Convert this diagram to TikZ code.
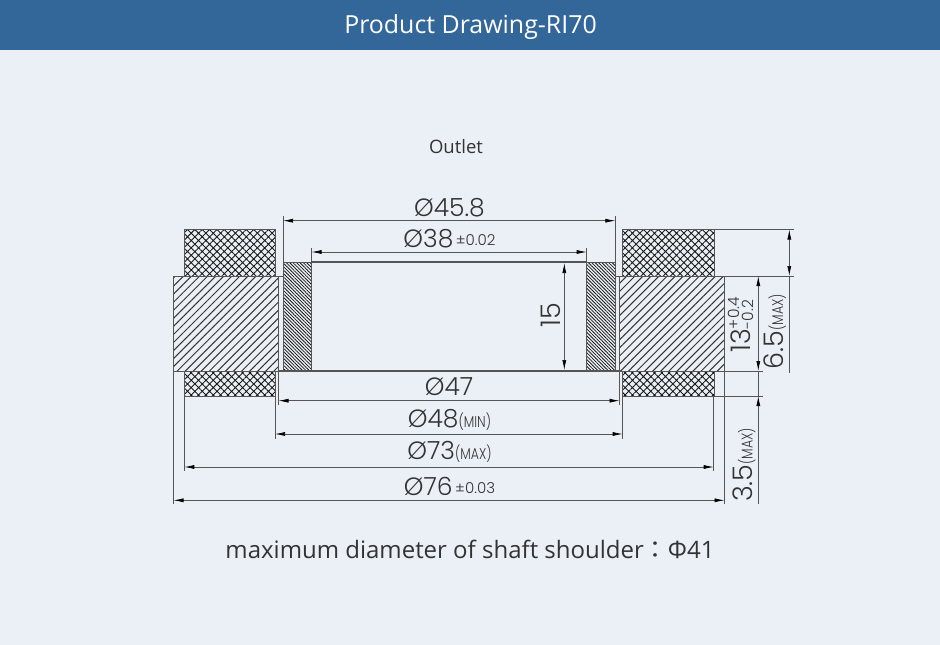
\documentclass[tikz,border=0pt]{standalone}
\usepackage{fontspec}
\setmainfont{Open Sans}
\newfontfamily\dimfont[UprightFont=*-Light]{Poppins}
\newfontfamily\cjkfont{Noto Sans CJK TC}
\usetikzlibrary{patterns.meta, arrows.meta}
\definecolor{pagebg}{HTML}{EBF0F7}
\definecolor{headblue}{HTML}{336699}
\definecolor{inkgrey}{HTML}{333333}
\definecolor{linegrey}{HTML}{555555}
\tikzset{
	dimline/.style={linegrey, line width=0.7pt},
	dimarrow/.style={linegrey, line width=0.7pt, {Latex[length=10pt,width=4pt,black]}-{Latex[length=10pt,width=4pt,black]}},
	dimtext/.style={inner sep=0pt, text=inkgrey, font=\dimfont\fontsize{25}{25}\selectfont},
	sidetext/.style={inner sep=0pt, text=inkgrey, rotate=90, anchor=base west, font=\dimfont\fontsize{27}{27}\selectfont},
	bodypart/.style={draw=linegrey, line width=0.7pt, pattern={Lines[angle=45,distance=5.7pt,line width=1pt]}, pattern color=black!80},
	crosspart/.style={draw=linegrey, line width=0.7pt, pattern={Hatch[angle=45,distance=5.2pt,line width=0.9pt]}, pattern color=black!90},
	densepart/.style={draw=linegrey, line width=0.7pt, pattern={Lines[angle=-45,distance=2.4pt,line width=0.8pt]}, pattern color=black!90}
}
\newcommand{\tinydim}[1]{{\fontsize{12.5}{13}\selectfont\scalebox{1}[1.25]{#1}}}
\newcommand{\toldim}[1]{{\fontsize{15}{15}\selectfont\,\raisebox{2pt}{#1}}}
\begin{document}
\begin{tikzpicture}[x=1pt,y=-1pt]

	\fill [pagebg] (0,0) rectangle (940,645);
	\useasboundingbox (0,0) rectangle (940,645);
	\fill [headblue] (0,0) rectangle (940,50);
	\node [anchor=base, text=white, font=\fontsize{24.9}{25}\selectfont] (title) at (470.5,33.5){Product Drawing-RI70};
	\node [anchor=base, text=inkgrey, font=\fontsize{18.5}{19}\selectfont] (outlet) at (456,153){Outlet};

%hatched parts
	\draw [crosspart] (184,229.5) rectangle (275,276);
	\draw [crosspart] (184,371) rectangle (275,396.5);
	\draw [crosspart] (622.7,229.5) rectangle (714,276);
	\draw [crosspart] (622.7,371) rectangle (714,396.5);
	\draw [bodypart] (173.5,276) rectangle (278.5,371);
	\draw [bodypart] (619.5,276) rectangle (724.5,371);
	\draw [densepart] (283,262) rectangle (311.5,371);
	\draw [densepart] (586.7,262) rectangle (615.3,371);

%bore lines
	\coordinate [] (BA) at (311.5,262){};
	\coordinate [] (BB) at (586.7,262){};
	\coordinate [] (BC) at (278.5,371){};
	\coordinate [] (BD) at (619.5,371){};
	\draw [linegrey, line width=1.6pt] (BA) -- (BB);
	\draw [linegrey, line width=1.6pt] (BC) -- (BD);
	\coordinate [] (BE) at (278.5,276){};
	\coordinate [] (BF) at (283,276){};
	\coordinate [] (BG) at (615.3,276){};
	\coordinate [] (BH) at (619.5,276){};
	\draw [dimline] (BE) -- (BF);
	\draw [dimline] (BG) -- (BH);

%extension lines
	\draw [dimline] (283,216) -- (283,262);
	\draw [dimline] (615.3,216) -- (615.3,262);
	\draw [dimline] (311.5,248) -- (311.5,262);
	\draw [dimline] (586.7,248) -- (586.7,262);
	\draw [dimline] (278.5,371) -- (278.5,405);
	\draw [dimline] (619.5,371) -- (619.5,405);
	\draw [dimline] (275,396) -- (275,438.5);
	\draw [dimline] (622.7,396) -- (622.7,438.5);
	\draw [dimline] (184.3,396) -- (184.3,471);
	\draw [dimline] (713.7,396) -- (713.7,471);
	\draw [dimline] (173.5,371) -- (173.5,504);
	\draw [dimline] (724.5,371) -- (724.5,504);
	\draw [dimline] (714,229.5) -- (794,229.5);
	\draw [dimline] (724.5,276) -- (794,276);
	\draw [dimline] (724.5,371) -- (763,371);
	\draw [dimline] (714,396) -- (763,396);

%dimension lines
	\draw [dimarrow] (283,220.7) -- (615.3,220.7);
	\draw [dimarrow] (311.5,252) -- (586.7,252);
	\draw [dimarrow] (564.3,263) -- (564.3,370);
	\draw [dimarrow] (278.5,400.7) -- (619.5,400.7);
	\draw [dimarrow] (275,434) -- (622.7,434);
	\draw [dimarrow] (184.3,467) -- (713.7,467);
	\draw [dimarrow] (173.5,500.3) -- (724.5,500.3);
	\draw [dimarrow] (789.3,229.5) -- (789.3,276);
	\draw [dimline] (789.3,276) -- (789.3,373);
	\draw [dimarrow] (758.3,276) -- (758.3,371);
	\draw [dimline] (758.3,371) -- (758.3,396);
	\draw [dimline, {Latex[length=10pt,width=4pt,black]}-] (758.3,396) -- (758.3,504);

%labels
	\node [dimtext] (d458) at (449.5,207.5){Ø45.8};
	\node [dimtext] (d38) at (449.5,238.5){Ø38\toldim{±0.02}};
	\node [sidetext] (h15) at (560,327.5){15};
	\node [dimtext] (d47) at (449,386.5){Ø47};
	\node [dimtext] (d48) at (449.5,419.5){Ø48\tinydim{(MIN)}};
	\node [dimtext] (d73) at (449.5,452){Ø73\tinydim{(MAX)}};
	\node [dimtext] (d76) at (449.5,486){Ø76\toldim{±0.03}};
	\node [sidetext] (h13) at (750,353){13{\fontsize{15.5}{16}\selectfont\rlap{\raisebox{10.5pt}{+0.4}}\raisebox{-3pt}{-0.2}}};
	\node [sidetext] (h65) at (783,369.5){6.5\tinydim{(MAX)}};
	\node [sidetext] (h35) at (752.5,502){3.5\tinydim{(MAX)}};

	\node [anchor=base, text=inkgrey, font=\fontsize{24}{24}\selectfont] (note) at (470,558.3){maximum diameter of shaft shoulder{\cjkfont ：}Φ41};

\end{tikzpicture}
\end{document}
